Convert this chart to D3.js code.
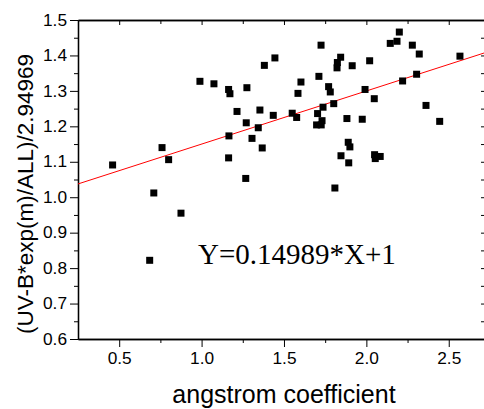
<!DOCTYPE html>
<html>
<head>
<meta charset="utf-8">
<script src="https://cdn.jsdelivr.net/npm/d3@7"></script>
<style>
  body { margin: 0; background: #fff; }
  svg { display: block; }
</style>
</head>
<body>
<script>
var width = 484, height = 409;

// angstrom coefficient vs normalised UV-B
var xValues = [0.46, 0.71, 0.76, 0.80, 0.99, 1.075, 1.164, 1.172, 1.275, 1.215, 1.271, 1.166, 1.164, 1.268, 0.875, 0.685,
  1.306, 1.344, 1.354, 1.368, 1.381, 1.445, 1.435, 1.550, 1.577, 1.585, 1.603, 1.725, 1.712, 1.704, 1.698, 1.731,
  1.726, 1.737, 1.771, 1.781, 1.802, 1.822, 1.824, 1.844, 1.882, 1.914, 1.975, 1.890, 1.900, 1.846, 1.893, 1.809,
  1.992, 2.020, 2.048, 2.050, 2.054, 2.084, 2.145, 2.186, 2.200, 2.279, 2.321, 2.220, 2.305, 2.362, 2.445, 2.568];
var yValues = [1.091, 1.012, 1.140, 1.106, 1.327, 1.320, 1.304, 1.292, 1.309, 1.242, 1.210, 1.173, 1.111, 1.053, 0.955, 0.822,
  1.166, 1.196, 1.246, 1.139, 1.372, 1.393, 1.231, 1.237, 1.225, 1.293, 1.325, 1.429, 1.341, 1.236, 1.204, 1.216,
  1.204, 1.254, 1.312, 1.297, 1.264, 1.365, 1.380, 1.395, 1.222, 1.371, 1.220, 1.155, 1.142, 1.117, 1.097, 1.026,
  1.304, 1.385, 1.278, 1.120, 1.109, 1.115, 1.434, 1.440, 1.466, 1.429, 1.404, 1.328, 1.347, 1.259, 1.214, 1.398];

var slope = 0.14989, intercept = 1;
var xMajor = [0.5, 1.0, 1.5, 2.0, 2.5];
var xMinor = [0.75, 1.25, 1.75, 2.25];
var yMajor = [0.6, 0.7, 0.8, 0.9, 1.0, 1.1, 1.2, 1.3, 1.4, 1.5];
var yMinor = [0.65, 0.75, 0.85, 0.95, 1.05, 1.15, 1.25, 1.35, 1.45];

var pLeft = 78, pRight = 485, pTop = 20, pBottom = 339;

var svg = d3.select("body").append("svg").attr("width", width).attr("height", height);

var x = d3.scaleLinear().domain([0.25, 2.72]).range([pLeft, pRight]);
var y = d3.scaleLinear().domain([0.6, 1.5]).range([pBottom, pTop]);

function styleAxis(g) {
  g.attr("font-size", null).attr("font-family", null);
  g.selectAll("path").attr("stroke", "#000").attr("stroke-width", 1.3);
  g.selectAll("line").attr("stroke", "#000").attr("stroke-width", 1);
  g.selectAll("text").attr("fill", "#000")
    .style("font-family", "'Liberation Sans', Arial, sans-serif").style("font-size", "16px");
}

// bottom axis
var gb = svg.append("g").attr("transform", "translate(0," + pBottom + ")")
  .call(d3.axisBottom(x).tickValues(xMajor).tickSize(8).tickSizeOuter(0).tickPadding(6).tickFormat(d3.format(".1f")));
svg.append("g").attr("transform", "translate(0," + pBottom + ")")
  .call(d3.axisBottom(x).tickValues(xMinor).tickSize(4).tickSizeOuter(0).tickFormat(""))
  .call(styleAxis);
gb.call(styleAxis);

// left axis
var gl = svg.append("g").attr("transform", "translate(" + pLeft + ",0)")
  .call(d3.axisLeft(y).tickValues(yMajor).tickSize(8).tickSizeOuter(0).tickPadding(3).tickFormat(d3.format(".1f")));
svg.append("g").attr("transform", "translate(" + pLeft + ",0)")
  .call(d3.axisLeft(y).tickValues(yMinor).tickSize(4).tickSizeOuter(0).tickFormat(""))
  .call(styleAxis);
gl.call(styleAxis);

// top axis, ticks inward
svg.append("g").attr("transform", "translate(0," + pTop + ")")
  .call(d3.axisBottom(x).tickValues(xMajor).tickSize(5).tickSizeOuter(0).tickFormat(""))
  .call(styleAxis);
svg.append("g").attr("transform", "translate(0," + pTop + ")")
  .call(d3.axisBottom(x).tickValues(xMinor).tickSize(4).tickSizeOuter(0).tickFormat(""))
  .call(styleAxis);

// right axis, ticks inward
svg.append("g").attr("transform", "translate(" + pRight + ",0)")
  .call(d3.axisLeft(y).tickValues(yMajor.concat(yMinor)).tickSize(4).tickSizeOuter(0).tickFormat(""))
  .call(styleAxis);

// stretch tick labels a bit, like the original
svg.selectAll(".tick text").each(function () {
  var w = this.getComputedTextLength();
  if (w > 0) d3.select(this).attr("textLength", w * 1.08).attr("lengthAdjust", "spacingAndGlyphs");
});

// fit line
svg.append("clipPath").attr("id", "plotclip")
  .append("rect").attr("x", pLeft).attr("y", pTop).attr("width", pRight - pLeft).attr("height", pBottom - pTop);

svg.append("line")
  .attr("clip-path", "url(#plotclip)")
  .attr("x1", x(0.25)).attr("y1", y(slope * 0.25 + intercept))
  .attr("x2", x(2.72)).attr("y2", y(slope * 2.72 + intercept))
  .attr("stroke", "#ff0000").attr("stroke-width", 1);

// points
var pts = d3.range(xValues.length);
svg.append("g").selectAll("rect").data(pts).enter().append("rect")
  .attr("x", function (i) { return x(xValues[i]) - 3.5; })
  .attr("y", function (i) { return y(yValues[i]) - 3.5; })
  .attr("width", 7).attr("height", 7)
  .attr("fill", "#000");

// equation
svg.append("text").attr("x", 198).attr("y", 264)
  .style("font-family", "'Liberation Serif', 'Times New Roman', serif").style("font-size", "29px")
  .attr("fill", "#000")
  .text("Y=0.14989*X+1");

// axis titles
svg.append("text").attr("x", 284).attr("y", 403).attr("text-anchor", "middle")
  .style("font-family", "'Liberation Sans', Arial, sans-serif").style("font-size", "25px")
  .attr("fill", "#000")
  .text("angstrom coefficient");

svg.append("text").attr("transform", "translate(33,194) rotate(-90)").attr("text-anchor", "middle")
  .style("font-family", "'Liberation Sans', Arial, sans-serif").style("font-size", "22.5px")
  .attr("fill", "#000")
  .text("(UV-B*exp(m)/ALL)/2.94969");
</script>
</body>
</html>
